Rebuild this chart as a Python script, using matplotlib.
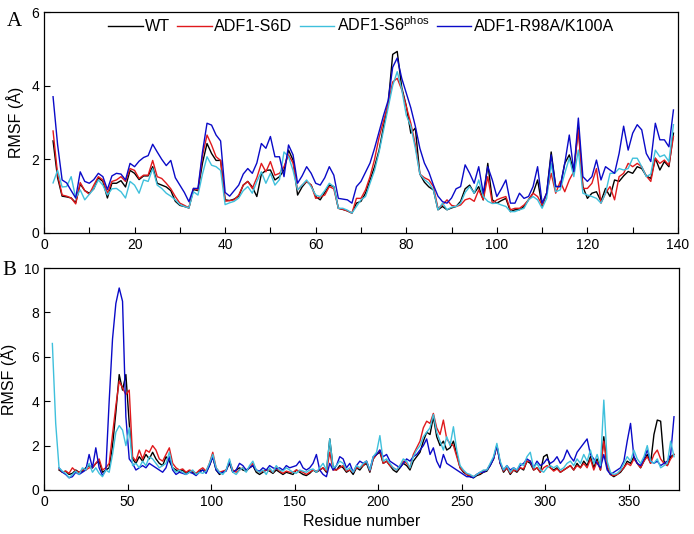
import numpy as np
import matplotlib
matplotlib.use("Agg")
import matplotlib.pyplot as plt

nan = float("nan")

# ---- panel A: residues 2..139 ----
A_RES = list(range(2, 140))

A_WT = [2.50, 1.50, 1.00, 0.98, 0.95, 0.82, 1.33, 1.15, 1.08, 1.20,
        1.50, 1.40, 0.95, 1.35, 1.35, 1.42, 1.25, 1.70, 1.62, 1.45,
        1.55, 1.55, 1.80, 1.35, 1.30, 1.25, 1.15, 0.86, 0.75, 0.72,
        0.68, 1.18, 1.15, 1.90, 2.43, 2.16, 1.97, 1.97, 0.90, 0.88,
        0.92, 1.00, 1.30, 1.40, 1.25, 0.99, 1.60, 1.70, 1.71, 1.44,
        1.53, 1.71, 2.25, 1.98, 1.03, 1.25, 1.40, 1.30, 0.99, 0.90,
        1.10, 1.30, 1.26, 0.67, 0.64, 0.60, 0.54, 0.81, 0.86, 1.08,
        1.44, 1.80, 2.25, 2.90, 3.50, 4.85, 4.93, 3.95, 3.45, 2.71,
        2.85, 1.60, 1.38, 1.25, 1.17, 0.63, 0.72, 0.63, 0.68, 0.72,
        0.86, 1.20, 1.30, 1.08, 1.26, 0.90, 1.89, 0.90, 0.81, 0.88,
        0.94, 0.58, 0.63, 0.63, 0.72, 0.90, 1.08, 1.44, 0.72, 1.08,
        2.20, 1.26, 1.26, 1.89, 2.12, 1.67, 2.90, 1.26, 0.94, 1.08,
        1.12, 0.86, 1.21, 0.99, 1.44, 1.40, 1.55, 1.67, 1.62, 1.80,
        1.75, 1.55, 1.48, 2.03, 1.71, 1.94, 1.80, 2.71]

A_S6D = [2.77, 1.60, 1.03, 1.00, 0.95, 0.79, 1.37, 1.15, 1.05, 1.30,
         1.53, 1.44, 1.08, 1.40, 1.44, 1.53, 1.40, 1.75, 1.70, 1.48,
         1.57, 1.57, 1.97, 1.53, 1.48, 1.35, 1.20, 0.99, 0.81, 0.75,
         0.68, 1.21, 1.17, 2.10, 2.66, 2.39, 2.07, 1.97, 0.86, 0.88,
         0.90, 1.03, 1.30, 1.40, 1.21, 1.50, 1.89, 1.66, 1.94, 1.57,
         1.62, 1.80, 2.12, 1.90, 1.17, 1.30, 1.40, 1.30, 0.94, 0.98,
         1.03, 1.26, 1.20, 0.67, 0.64, 0.60, 0.54, 0.94, 0.94, 1.17,
         1.53, 2.00, 2.60, 3.05, 3.50, 4.10, 4.20, 3.89, 3.43, 2.98,
         2.40, 1.60, 1.50, 1.44, 1.26, 0.67, 0.76, 0.90, 0.75, 0.72,
         0.76, 0.90, 0.94, 0.86, 1.17, 0.90, 1.53, 0.81, 0.90, 0.95,
         0.99, 0.63, 0.67, 0.67, 0.76, 0.90, 1.08, 0.99, 0.76, 1.08,
         1.62, 1.08, 1.40, 1.12, 1.44, 1.67, 2.80, 1.21, 1.21, 1.35,
         1.75, 0.81, 1.08, 1.26, 0.90, 1.53, 1.62, 1.89, 1.80, 1.89,
         1.80, 1.55, 1.40, 2.03, 1.89, 1.98, 1.84, 2.62]

A_PHOS = [1.36, 1.70, 1.25, 1.26, 1.53, 0.95, 1.17, 0.90, 1.05, 1.20,
          1.44, 1.30, 1.03, 1.20, 1.21, 1.12, 0.95, 1.40, 1.30, 1.08,
          1.44, 1.40, 1.75, 1.30, 1.21, 1.08, 1.00, 0.90, 0.77, 0.72,
          0.68, 1.12, 1.03, 1.60, 2.07, 1.84, 1.80, 1.70, 0.77, 0.82,
          0.86, 0.95, 1.15, 1.26, 1.08, 1.40, 1.66, 1.35, 1.62, 1.30,
          1.45, 2.20, 2.07, 1.70, 1.17, 1.30, 1.44, 1.25, 1.03, 0.99,
          1.15, 1.35, 1.26, 0.67, 0.67, 0.62, 0.54, 0.72, 0.90, 0.99,
          1.35, 1.70, 2.20, 2.80, 3.40, 4.00, 4.38, 3.90, 3.20, 2.90,
          2.30, 1.60, 1.45, 1.35, 1.17, 0.63, 0.81, 0.63, 0.70, 0.72,
          0.81, 1.10, 1.26, 1.08, 1.44, 0.99, 0.86, 0.80, 0.81, 0.76,
          0.72, 0.58, 0.58, 0.63, 0.67, 0.90, 0.99, 0.90, 0.67, 0.94,
          1.89, 1.12, 1.17, 1.62, 2.03, 1.53, 2.25, 1.08, 1.03, 0.99,
          0.94, 0.81, 1.08, 1.62, 1.62, 1.75, 1.71, 1.75, 2.03, 2.03,
          1.80, 1.53, 1.60, 2.25, 2.07, 2.12, 1.94, 2.94]

A_MUT = [3.70, 2.40, 1.44, 1.36, 1.15, 0.95, 1.66, 1.40, 1.35, 1.45,
         1.62, 1.53, 1.18, 1.55, 1.62, 1.60, 1.44, 1.89, 1.80, 1.95,
         2.05, 2.10, 2.41, 2.20, 2.00, 1.83, 1.97, 1.50, 1.30, 1.10,
         0.85, 1.21, 1.21, 2.20, 2.98, 2.93, 2.66, 2.50, 1.10, 1.00,
         1.15, 1.30, 1.60, 1.75, 1.62, 1.90, 2.43, 2.30, 2.62, 2.07,
         2.07, 1.53, 2.39, 2.12, 1.35, 1.55, 1.80, 1.62, 1.35, 1.30,
         1.50, 1.80, 1.57, 0.94, 0.92, 0.90, 0.81, 1.26, 1.40, 1.65,
         1.90, 2.30, 2.75, 3.20, 3.60, 4.50, 4.75, 4.20, 3.80, 3.40,
         2.90, 2.30, 1.90, 1.65, 1.30, 1.00, 0.85, 0.81, 0.95, 1.20,
         1.26, 1.85, 1.62, 1.35, 1.80, 1.08, 1.80, 1.44, 0.99, 1.20,
         1.44, 0.81, 0.81, 1.08, 0.94, 0.99, 1.26, 1.80, 0.81, 1.08,
         2.12, 1.26, 1.26, 1.89, 2.66, 1.67, 3.12, 1.53, 1.40, 1.53,
         1.98, 1.44, 1.80, 1.71, 1.62, 2.16, 2.90, 2.25, 2.71, 2.94,
         2.80, 2.16, 1.94, 2.98, 2.53, 2.53, 2.34, 3.34]

# ---- panel B: every second residue, 5..377 ----
B_RES = list(range(5, 378, 2))

B_WT = [nan, nan, 0.9, 0.8, 0.85, 0.7, 0.75, 0.9, 0.8, 0.85,
        1.0, 1.1, 1.0, 1.2, 1.3, 0.8, 0.9, 1.0, 2.0, 3.5,
        5.2, 4.5, 5.2, 3.0, 1.4, 1.2, 1.5, 1.3, 1.6, 1.4,
        1.7, 1.4, 1.2, 1.1, 1.5, 1.3, 1.0, 0.9, 0.85, 0.9,
        0.75, 0.85, 0.8, 0.7, 0.85, 0.9, 0.8, 1.1, 1.5, 0.9,
        0.7, 0.8, 0.9, 1.2, 0.8, 0.9, 1.0, 0.9, 0.85, 1.0,
        1.1, 0.8, 0.7, 0.8, 0.9, 0.85, 0.75, 0.9, 0.8, 0.7,
        0.8, 0.75, 0.7, 0.9, 0.8, 0.7, 0.65, 0.75, 0.9, 0.8,
        0.9, 1.0, 0.8, 2.3, 1.0, 0.9, 1.1, 1.0, 0.8, 0.9,
        0.7, 1.0, 0.9, 1.1, 1.2, 0.8, 1.4, 1.6, 1.7, 1.2,
        1.3, 1.1, 0.9, 0.8, 1.0, 1.2, 1.1, 0.9, 1.3, 1.5,
        1.7, 2.2, 2.6, 2.5, 3.3, 2.4, 2.0, 2.2, 1.8, 1.9,
        2.2, 1.6, 1.0, 0.8, 0.7, 0.6, 0.55, 0.65, 0.7, 0.8,
        0.85, 1.1, 1.4, 2.0, 1.2, 0.8, 1.0, 0.7, 0.9, 0.8,
        1.0, 0.9, 1.3, 1.2, 0.9, 1.0, 0.8, 1.5, 1.6, 1.0,
        0.9, 1.0, 0.8, 0.9, 1.0, 1.1, 0.9, 1.2, 1.0, 1.3,
        1.1, 1.5, 1.0, 1.4, 0.9, 2.4, 1.0, 0.7, 0.6, 0.7,
        0.8, 1.0, 1.3, 1.2, 1.5, 1.2, 1.0, 1.3, 1.6, 1.2,
        2.5, 3.15, 3.1, 1.3, 1.1, 1.5, 1.6]

B_S6D = [nan, nan, 0.95, 0.8, 0.85, 0.75, 1.0, 0.85, 0.8, 0.9,
         0.9, 1.0, 1.0, 1.2, 1.4, 0.9, 1.0, 1.2, 2.5, 3.8,
         4.9, 4.6, 4.3, 4.5, 1.5, 1.3, 1.8, 1.4, 1.8, 1.7,
         2.0, 1.8, 1.4, 1.3, 1.6, 1.9, 1.2, 1.0, 0.9, 0.95,
         0.8, 0.9, 0.85, 0.75, 0.9, 1.0, 0.85, 1.2, 1.7, 1.0,
         0.8, 0.85, 0.9, 1.3, 0.9, 0.8, 0.9, 1.0, 0.9, 1.0,
         1.2, 0.9, 0.8, 0.85, 0.9, 0.9, 0.8, 1.0, 0.85, 0.75,
         0.85, 0.8, 0.8, 0.9, 0.85, 0.8, 0.7, 0.8, 0.9, 0.85,
         0.9, 1.0, 0.85, 1.7, 0.9, 0.9, 1.0, 1.1, 0.85, 0.9,
         0.8, 1.0, 1.0, 1.1, 1.3, 0.85, 1.4, 1.6, 1.8, 1.2,
         1.3, 1.1, 1.0, 0.9, 1.1, 1.3, 1.2, 1.0, 1.6, 1.9,
         2.2, 2.8, 3.1, 3.0, 3.45, 2.8, 2.5, 3.15, 2.3, 2.1,
         2.0, 1.5, 1.0, 0.85, 0.7, 0.65, 0.6, 0.7, 0.75, 0.85,
         0.9, 1.15, 1.4, 2.0, 1.2, 0.85, 1.0, 0.75, 0.9, 0.85,
         1.0, 0.95, 1.3, 1.3, 0.9, 1.0, 0.8, 1.0, 1.1, 1.0,
         0.85, 0.95, 0.8, 0.9, 1.0, 1.1, 0.9, 1.1, 1.0, 1.2,
         1.0, 1.4, 0.9, 1.3, 0.9, 2.2, 1.1, 0.7, 0.65, 0.7,
         0.85, 1.0, 1.2, 1.1, 1.4, 1.2, 1.0, 1.3, 1.5, 1.2,
         1.6, 1.8, 1.4, 1.2, 1.1, 1.4, 1.6]

B_MUT = [nan, nan, 1.0, 0.8, 0.7, 0.55, 0.6, 0.8, 0.7, 0.8,
         0.9, 1.6, 1.0, 1.9, 1.0, 0.65, 0.9, 4.0, 6.8, 8.4,
         9.1, 8.5, 3.3, 1.4, 1.2, 0.9, 1.0, 1.1, 1.0, 1.2,
         1.1, 1.0, 0.9, 0.8, 1.0, 1.5, 0.9, 0.7, 0.8, 0.75,
         0.7, 0.8, 0.75, 0.65, 0.8, 0.9, 0.75, 1.1, 1.5, 0.9,
         0.75, 0.8, 0.85, 1.3, 0.8, 0.9, 1.2, 1.1, 0.9, 1.0,
         1.1, 0.9, 0.85, 1.0, 0.9, 1.1, 1.0, 0.95, 1.0, 0.9,
         1.1, 1.0, 1.05, 1.1, 1.3, 1.0, 0.9, 1.0, 1.2, 1.6,
         0.9, 0.7, 0.6, 1.2, 0.9, 1.1, 1.5, 1.4, 1.0, 1.2,
         0.8, 1.1, 1.3, 1.2, 1.3, 0.9, 1.5, 1.6, 1.8, 1.5,
         1.6, 1.3, 1.2, 1.1, 1.0, 1.2, 1.4, 1.3, 1.5, 1.6,
         1.8, 2.0, 2.3, 1.6, 1.9, 1.3, 1.0, 1.6, 1.2, 1.1,
         1.0, 0.9, 0.8, 0.7, 0.6, 0.6, 0.55, 0.7, 0.8, 0.8,
         0.9, 1.1, 1.4, 2.0, 1.2, 0.9, 1.1, 0.9, 1.0, 0.9,
         1.1, 1.2, 1.4, 1.3, 1.0, 1.3, 1.1, 1.2, 1.4, 1.2,
         1.3, 1.5, 1.2, 1.4, 1.8, 1.5, 1.3, 1.7, 1.9, 2.1,
         2.3, 1.6, 1.4, 1.2, 1.0, 1.6, 0.9, 0.7, 0.8, 0.9,
         1.0, 1.3, 2.2, 3.0, 1.5, 1.2, 1.1, 1.4, 1.8, 1.3,
         1.2, 1.3, 1.1, 1.2, 1.3, 1.6, 3.3]

B_PHOS = [6.6, 3.0, 1.0, 0.85, 0.75, 0.55, 0.7, 0.85, 0.7, 1.0,
          0.9, 1.2, 0.8, 1.0, 0.75, 0.6, 0.9, 0.8, 1.6, 2.6,
          2.9, 2.7, 2.0, 2.8, 1.1, 1.2, 1.0, 1.3, 1.1, 1.5,
          1.4, 1.2, 1.0, 1.1, 1.2, 1.7, 1.0, 0.8, 0.9, 0.8,
          0.7, 0.8, 0.9, 0.7, 0.8, 0.75, 0.85, 1.2, 1.6, 1.0,
          0.8, 0.7, 0.9, 1.4, 0.8, 0.7, 0.9, 1.0, 0.8, 1.1,
          1.3, 0.9, 0.8, 0.9, 0.7, 1.0, 0.8, 1.1, 0.9, 0.85,
          1.0, 0.9, 0.8, 0.75, 0.9, 0.85, 0.8, 0.9, 0.95, 0.8,
          1.0, 1.2, 0.9, 2.3, 1.0, 1.1, 1.3, 1.2, 0.9, 1.0,
          0.8, 1.1, 1.0, 1.2, 1.3, 0.9, 1.5, 1.7, 2.45, 1.3,
          1.4, 1.2, 1.0, 0.9, 1.1, 1.4, 1.3, 1.0, 1.5, 1.8,
          2.0, 2.4, 2.6, 2.8, 3.4, 2.6, 2.2, 1.8, 2.4, 2.0,
          2.85, 1.8, 1.1, 0.9, 0.75, 0.7, 0.6, 0.7, 0.8, 0.9,
          0.9, 1.2, 1.5, 2.1, 1.3, 0.9, 1.1, 0.8, 1.0, 0.9,
          1.2, 1.1, 1.5, 1.7, 1.0, 1.2, 0.9, 0.8, 1.0, 1.1,
          1.0, 1.1, 0.9, 1.0, 1.2, 1.3, 1.1, 1.4, 1.2, 1.6,
          1.3, 1.8, 1.2, 1.6, 1.1, 4.05, 1.3, 0.8, 0.7, 0.75,
          0.9, 1.2, 1.5, 1.3, 1.8, 1.4, 1.2, 1.5, 2.0, 1.3,
          1.2, 1.4, 1.0, 1.1, 1.2, 2.2, 1.5]

LABELS = ["WT", "ADF1-S6D", r"ADF1-S6$^{\rm phos}$", "ADF1-R98A/K100A"]
COLORS = ["black", "#e0191c", "#3fc0dc", "#0a0ac8"]

plt.rcParams["font.family"] = ["Liberation Sans", "DejaVu Sans"]
plt.rcParams["mathtext.fontset"] = "custom"
plt.rcParams["mathtext.rm"] = "Liberation Sans"

fig = plt.figure(figsize=(6.94, 5.34), dpi=100)
axA = fig.add_axes([0.0634, 0.5637, 0.9135, 0.4138])
axB = fig.add_axes([0.0634, 0.0824, 0.9150, 0.4157])

for ys, lab, col in zip([A_WT, A_S6D, A_PHOS, A_MUT], LABELS, COLORS):
    axA.plot(A_RES, ys, color=col, lw=1.0, label=lab)

for ys, col in zip([B_WT, B_S6D, B_MUT, B_PHOS], [COLORS[0], COLORS[1], COLORS[3], COLORS[2]]):
    axB.plot(B_RES, ys, color=col, lw=1.0)

axA.set_xlim(0, 140)
axA.set_ylim(0, 6)
axA.set_xticks(range(0, 141, 20))
axA.set_xticks(range(10, 140, 20), minor=True)
axA.set_yticks([0, 2, 4, 6])

axB.set_xlim(0, 380)
axB.set_ylim(0, 10)
axB.set_xticks(range(0, 351, 50))
axB.set_yticks(range(0, 11, 2))

for ax in (axA, axB):
    ax.tick_params(which="both", direction="in", length=4, width=0.8, labelsize=10)
    ax.set_ylabel("RMSF (Å)", fontsize=11.5, labelpad=5)
    for s in ax.spines.values():
        s.set_linewidth(0.9)

axB.set_xlabel("Residue number", fontsize=11.5, labelpad=4)

axA.legend(loc="center", bbox_to_anchor=(0.5, 0.942), ncol=4, frameon=False,
           fontsize=11.6, handlelength=2.15, handletextpad=0.15, columnspacing=0.45,
           borderpad=0.2)

fig.text(0.010, 0.977, "A", family="Liberation Serif", fontsize=15, va="top")
fig.text(0.003, 0.512, "B", family="Liberation Serif", fontsize=15, va="top")

fig.savefig("out.png", dpi=100)
